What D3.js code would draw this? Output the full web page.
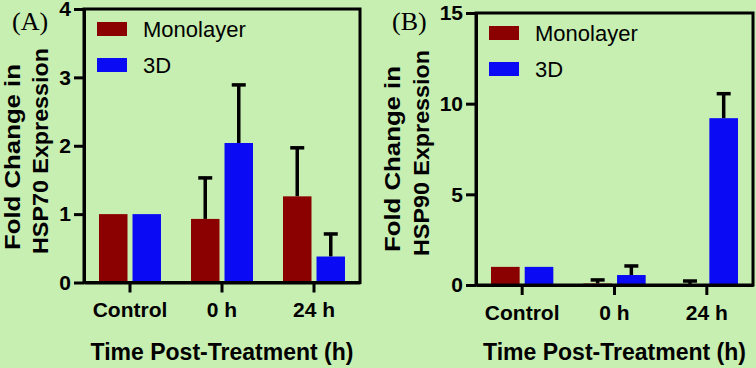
<!DOCTYPE html>
<html>
<head>
<meta charset="utf-8">
<script src="https://cdn.jsdelivr.net/npm/d3@7"></script>
<style>
  html, body { margin: 0; padding: 0; background: #c7efb1; }
  svg { display: block; }
</style>
</head>
<body>
<svg id="chart" width="756" height="368"></svg>
<script>
// ---- data ----
const categories = ["Control", "0 h", "24 h"];
const seriesNames = ["Monolayer", "3D"];
const seriesColors = ["#8b0000", "#0a0af5"];

// Panel A: HSP70
const hsp70Monolayer = [1.0, 0.93, 1.26];
const hsp70MonolayerErr = [0, 0.60, 0.71];
const hsp70ThreeD = [1.0, 2.04, 0.38];
const hsp70ThreeDErr = [0, 0.85, 0.33];
const hsp70Ticks = [0, 1, 2, 3, 4];

// Panel B: HSP90
const hsp90Monolayer = [1.0, 0.08, 0.02];
const hsp90MonolayerErr = [0, 0.20, 0.20];
const hsp90ThreeD = [1.0, 0.55, 9.2];
const hsp90ThreeDErr = [0, 0.50, 1.35];
const hsp90Ticks = [0, 5, 10, 15];

const svg = d3.select("#chart");
const FONT = "'Liberation Sans', Arial, Helvetica, sans-serif";

function drawPanel(cfg) {
  const g = svg.append("g");
  const x0 = d3.scaleBand().domain(categories).range([cfg.left, cfg.right]).paddingInner(0).paddingOuter(0);
  const x1 = d3.scaleBand().domain(seriesNames).range([15, x0.bandwidth() - 15]).paddingInner(0.15).paddingOuter(0);
  const y = d3.scaleLinear().domain([0, cfg.yMax]).range([cfg.bottom, cfg.top]);

  const rows = [];
  categories.forEach((c, i) => {
    rows.push({cat: c, s: 0, v: cfg.mono[i], e: cfg.monoErr[i]});
    rows.push({cat: c, s: 1, v: cfg.threeD[i], e: cfg.threeDErr[i]});
  });

  // error bars (drawn behind bars)
  const eb = g.append("g");
  rows.filter(d => d.e > 0).forEach(d => {
    const cx = x0(d.cat) + x1(seriesNames[d.s]) + x1.bandwidth() / 2;
    eb.append("line").attr("x1", cx).attr("x2", cx)
      .attr("y1", y(d.v)).attr("y2", y(d.v + d.e))
      .attr("stroke", "#000").attr("stroke-width", 3.5);
    eb.append("line").attr("x1", cx - 7).attr("x2", cx + 7)
      .attr("y1", y(d.v + d.e)).attr("y2", y(d.v + d.e))
      .attr("stroke", "#000").attr("stroke-width", 3.5);
  });

  // bars
  g.append("g").selectAll("rect").data(rows).join("rect")
    .attr("x", d => x0(d.cat) + x1(seriesNames[d.s]))
    .attr("width", x1.bandwidth())
    .attr("y", d => y(d.v))
    .attr("height", d => y(0) - y(d.v))
    .attr("fill", d => seriesColors[d.s]);

  // frame
  g.append("rect")
    .attr("x", cfg.left).attr("y", cfg.top)
    .attr("width", cfg.right - cfg.left).attr("height", cfg.bottom - cfg.top)
    .attr("fill", "none").attr("stroke", "#000").attr("stroke-width", 3);

  // y axis
  const ya = g.append("g").attr("transform", `translate(${cfg.left},0)`)
    .call(d3.axisLeft(y).tickValues(cfg.ticks).tickSize(10).tickSizeOuter(0).tickPadding(3).tickFormat(d3.format("d")));
  ya.select(".domain").attr("stroke-width", 3);
  ya.selectAll(".tick line").attr("stroke-width", 3);
  ya.selectAll("text").attr("font-family", FONT).attr("font-weight", "bold").attr("font-size", 21).attr("fill", "#000");

  // x axis
  const xa = g.append("g").attr("transform", `translate(0,${cfg.bottom})`)
    .call(d3.axisBottom(x0).tickSize(10).tickSizeOuter(0).tickPadding(10));
  xa.select(".domain").attr("stroke-width", 3);
  xa.selectAll(".tick line").attr("stroke-width", 3);
  xa.selectAll("text").attr("font-family", FONT).attr("font-weight", "bold").attr("font-size", 21).attr("fill", "#000");

  // x title
  g.append("text")
    .attr("x", (cfg.left + cfg.right) / 2).attr("y", 360)
    .attr("text-anchor", "middle")
    .attr("font-family", FONT).attr("font-weight", "bold").attr("font-size", 23)
    .text("Time Post-Treatment (h)");

  // y title (two lines)
  cfg.yTitle.forEach((t, i) => {
    g.append("text")
      .attr("transform", `translate(${cfg.yTitleX[i]},${cfg.yTitleY[i]}) rotate(-90)`)
      .attr("text-anchor", "middle")
      .attr("font-family", FONT).attr("font-weight", "bold").attr("font-size", 22.5)
      .attr("textLength", cfg.yTitleLen[i]).attr("lengthAdjust", "spacingAndGlyphs")
      .text(t);
  });

  // panel label
  g.append("text")
    .attr("x", cfg.labelX).attr("y", 30)
    .attr("font-family", "'Liberation Serif', 'Times New Roman', serif")
    .attr("font-size", 26)
    .text(cfg.label);

  // legend
  seriesNames.forEach((s, i) => {
    const ly = cfg.top + 13 + i * 36;
    g.append("rect")
      .attr("x", cfg.left + 13).attr("y", ly)
      .attr("width", 30).attr("height", 14)
      .attr("fill", seriesColors[i]);
    g.append("text")
      .attr("x", cfg.left + 59).attr("y", ly + 15)
      .attr("font-family", FONT).attr("font-size", 22)
      .text(s);
  });
}

drawPanel({
  left: 84, right: 360, top: 9, bottom: 282.5, yMax: 4,
  mono: hsp70Monolayer, monoErr: hsp70MonolayerErr,
  threeD: hsp70ThreeD, threeDErr: hsp70ThreeDErr,
  ticks: hsp70Ticks,
  yTitle: ["Fold Change in", "HSP70 Expression"], yTitleX: [20, 48], yTitleY: [157, 151], yTitleLen: [186, 206],
  label: "(A)", labelX: 12
});

drawPanel({
  left: 476, right: 753, top: 13, bottom: 285, yMax: 15,
  mono: hsp90Monolayer, monoErr: hsp90MonolayerErr,
  threeD: hsp90ThreeD, threeDErr: hsp90ThreeDErr,
  ticks: hsp90Ticks,
  yTitle: ["Fold Change in", "HSP90 Expression"], yTitleX: [400, 429], yTitleY: [159, 153], yTitleLen: [186, 206],
  label: "(B)", labelX: 392
});
</script>
</body>
</html>
